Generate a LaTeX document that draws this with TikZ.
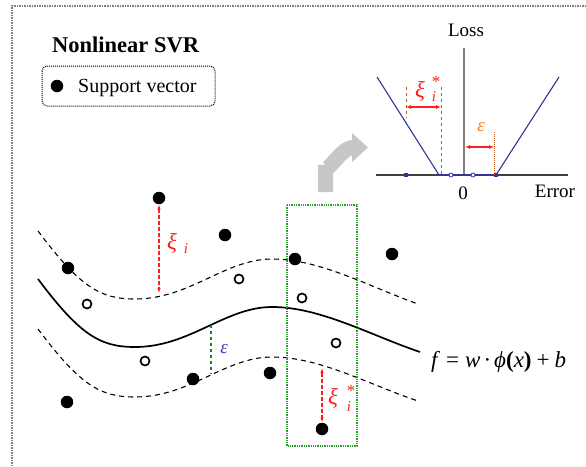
\documentclass[tikz,border=0pt]{standalone}
\usepackage{fontspec}
\setmainfont{Liberation Serif}
\usetikzlibrary{arrows.meta}
\definecolor{navy}{RGB}{50,50,160}
\definecolor{svred}{RGB}{255,30,30}
\definecolor{brownd}{RGB}{190,90,40}
\definecolor{epsor}{RGB}{255,130,30}
\definecolor{grn}{RGB}{40,160,40}
\definecolor{epsblue}{RGB}{60,60,190}
\begin{document}
\begin{tikzpicture}[x=1pt,y=-1pt,
  sv/.style={circle,fill=black,inner sep=0pt,minimum size=12.5pt},
  nsv/.style={circle,draw=black,line width=1.7pt,fill=white,inner sep=0pt,minimum size=9pt},
  band/.style={line width=1.1pt,dash pattern=on 5pt off 4pt},
  fcurve/.style={line width=1.7pt},
  redarr/.style={svred,line width=1.1pt,dash pattern=on 4pt off 2pt,{Latex[length=5pt,width=3.5pt]}-{Latex[length=5pt,width=3.5pt]}},
  lbl/.style={inner sep=0pt,anchor=base},
]
\useasboundingbox (0,0) rectangle (586,466);
% outer frame
\draw[gray,line width=1.5pt,densely dotted] (586,6) -- (12,6) -- (12,466);
% title and legend
\node[inner sep=0pt,anchor=base west,font=\fontsize{22.5}{22.5}\selectfont\bfseries] (title) at (52,52) {Nonlinear SVR};
\draw[line width=1pt,densely dotted,rounded corners=5pt] (42,66) rectangle (215,106);
\node[sv] (legdot) at (57,86) {};
\node[inner sep=0pt,anchor=base west,font=\fontsize{20}{20}\selectfont] (legtxt) at (78,92) {Support vector};

% ---------- loss plot ----------
\coordinate (vtop) at (464,48);
\coordinate (vbot) at (464,175);
\draw[gray,line width=1.6pt] (vtop) -- (vbot);
\node[lbl,font=\fontsize{19}{19}\selectfont] (loss) at (466,36) {Loss};
\coordinate (hl) at (376,175);
\coordinate (hr) at (568,175);
\draw[black!75,line width=1.2pt] (hl) -- (hr);
\node[lbl,font=\fontsize{19}{19}\selectfont] (zero) at (463,199) {0};
\node[lbl,font=\fontsize{19}{19}\selectfont] (err) at (555,197) {Error};
\coordinate (la) at (377,77);
\coordinate (lb) at (439,175);
\coordinate (rb) at (496,175);
\coordinate (ra) at (559,77);
\draw[navy,line width=1.1pt] (la) -- (lb);
\draw[navy,line width=1.8pt] (lb) -- (rb);
\draw[navy,line width=1.1pt] (rb) -- (ra);
\node[fill=navy,inner sep=0pt,minimum size=3.5pt] (q1) at (406,175) {};
\node[circle,draw=navy,fill=white,line width=0.8pt,inner sep=0pt,minimum size=4pt] (q2) at (451,175) {};
\node[circle,draw=navy,fill=white,line width=0.8pt,inner sep=0pt,minimum size=4pt] (q3) at (473,175) {};
\node[fill=navy,inner sep=0pt,minimum size=3.5pt] (q4) at (496,175) {};
% xi* in loss plot
\coordinate (d1t) at (406,87);
\coordinate (d1b) at (406,118);
\coordinate (d2t) at (441,87);
\coordinate (d2b) at (441,175);
\draw[brownd,line width=1pt,dashed] (d1t) -- (d1b);
\draw[brownd,line width=1pt,dashed] (d2t) -- (d2b);
\coordinate (xa) at (406,107);
\coordinate (xb) at (441,107);
\draw[svred,line width=1.1pt,{Latex[length=5pt,width=4pt]}-{Latex[length=5pt,width=4pt]}] (xa) -- (xb);
\node[lbl,svred,font=\fontsize{23}{23}\itshape] (xist) at (420,97) {ξ};
\node[lbl,svred,font=\fontsize{15}{15}\itshape] (xisti) at (434,101) {i};
\node[lbl,svred,font=\fontsize{17}{17}\selectfont] (xists) at (436,87) {*};
% epsilon in loss plot
\coordinate (et) at (494,132);
\coordinate (eb) at (494,175);
\draw[brownd,line width=1pt,densely dotted] (et) -- (eb);
\coordinate (ea) at (465,147);
\coordinate (ebb) at (494,147);
\draw[svred,line width=1.1pt,{Latex[length=5pt,width=4pt]}-{Latex[length=5pt,width=4pt]}] (ea) -- (ebb);
\node[lbl,epsor,font=\fontsize{19}{19}\itshape] (epsl) at (481,131) {ε};

% gray bent arrow
\coordinate (ga) at (325.5,192);
\coordinate (gb) at (325.5,165);
\coordinate (gc) at (353,147.5);
\draw[black!22,line width=15pt] (ga) -- (gb) to[out=-90,in=180] (gc);
\fill[black!22] (352,133) -- (368,147.5) -- (352,162) -- cycle;

% ---------- regression tube ----------
\draw[fcurve] (38,279) .. controls (80,335) and (100,347) .. (135,347) .. controls (190,347) and (225,307) .. (272,307) .. controls (320,307) and (370,335) .. (420,352);
\begin{scope}[shift={(0,-48)}]
\draw[band] (38,279) .. controls (80,335) and (100,347) .. (135,347) .. controls (190,347) and (225,307) .. (272,307) .. controls (320,307) and (370,335) .. (418,352);
\end{scope}
\begin{scope}[shift={(0,50)}]
\draw[band] (38,279) .. controls (80,335) and (100,347) .. (135,347) .. controls (190,347) and (225,307) .. (272,307) .. controls (320,307) and (370,335) .. (418,351);
\end{scope}

% green window
\draw[grn,line width=1.3pt,densely dotted] (287,205) rectangle (357,446);

% support vectors and other points
\node[sv] (p1) at (159,198) {};
\node[sv] (p2) at (225,235) {};
\node[sv] (p3) at (68,268) {};
\node[sv] (p4) at (295,259) {};
\node[sv] (p5) at (392,254) {};
\node[sv] (p6) at (193,379) {};
\node[sv] (p7) at (270,373) {};
\node[sv] (p8) at (67,402) {};
\node[sv] (p9) at (322,429) {};
\node[nsv] (o1) at (87,304) {};
\node[nsv] (o2) at (239,279) {};
\node[nsv] (o3) at (145,361) {};
\node[nsv] (o4) at (302,298) {};
\node[nsv] (o5) at (336,343) {};

% xi_i
\coordinate (u1) at (159,293);
\draw[redarr] (p1) -- (u1);
\node[lbl,svred,font=\fontsize{23}{23}\itshape] (xi) at (172,249) {ξ};
\node[lbl,svred,font=\fontsize{15}{15}\itshape] (xii) at (186,253) {i};
% xi_i^*
\coordinate (u9) at (322,368);
\draw[redarr] (u9) -- (p9);
\node[lbl,svred,font=\fontsize{23}{23}\itshape] (xis) at (333,404) {ξ};
\node[lbl,svred,font=\fontsize{15}{15}\itshape] (xisi) at (349,411) {i};
\node[lbl,svred,font=\fontsize{17}{17}\selectfont] (xiss) at (351,396) {*};
% epsilon in tube
\coordinate (e1) at (211,324.5);
\coordinate (e2) at (211,373);
\draw[grn!80!black,line width=1.1pt,dashed] (e1) -- (e2);
\node[lbl,epsblue,font=\fontsize{19}{19}\itshape] (eps) at (224,353) {ε};

% formula
\node[inner sep=0pt,anchor=base west,font=\fontsize{23}{23}\selectfont] (fml) at (431,367)
  {\textit{f}\hspace{6pt}=\hspace{6pt}\textit{w}\hspace{3pt}·\hspace{3pt}\textit{ϕ}\textbf{(}\textit{x}\textbf{)}\hspace{5pt}+\hspace{5pt}\textit{b}};
\end{tikzpicture}
\end{document}
